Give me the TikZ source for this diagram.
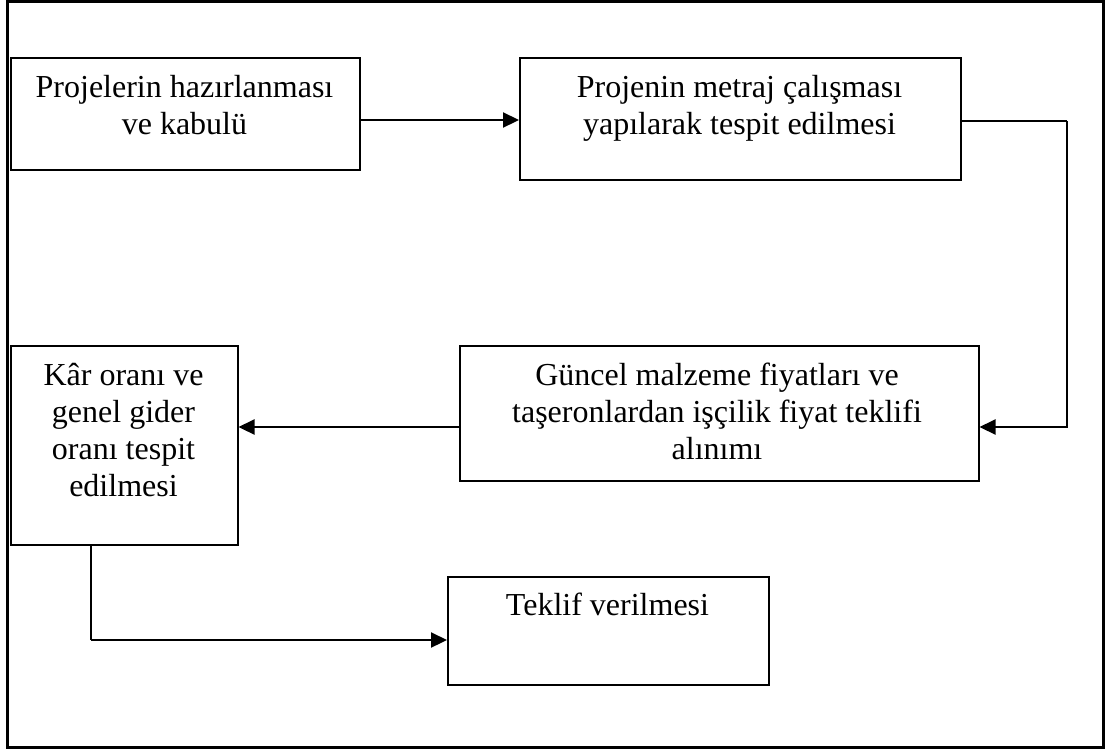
\documentclass[tikz,border=0pt]{standalone}
\usepackage{fontspec}
\setmainfont{Liberation Serif}
\usetikzlibrary{arrows.meta}
\newcommand{\stack}[1]{\begin{tabular}[t]{@{}c@{}}#1\end{tabular}}
\begin{document}
\begin{tikzpicture}[x=1pt,y=-1pt,
  stepbox/.style={draw,line width=1.5pt,inner sep=0pt,anchor=north west},
  txt/.style={inner sep=0pt,anchor=base,font=\fontsize{32}{37}\selectfont},
  link/.style={line width=2.2pt,-{Triangle[length=16pt,width=15pt]}},
  plain/.style={line width=2.2pt}]
  \useasboundingbox (0,0) rectangle (1107,753);
  \draw[line width=3pt] (7,1.5) rectangle (1103,747);

  % process boxes
  \node[stepbox,minimum width=349pt,minimum height=112pt] (b1) at (10,57) {};
  \node[stepbox,minimum width=441pt,minimum height=122pt] (b2) at (519,57) {};
  \node[stepbox,minimum width=519pt,minimum height=135pt] (b3) at (459,345) {};
  \node[stepbox,minimum width=227pt,minimum height=199pt] (b4) at (10,345) {};
  \node[stepbox,minimum width=321pt,minimum height=108pt] (b5) at (447,576) {};

  % box texts
  \node[txt] (t1) at (184.5,97) {\stack{Projelerin hazırlanması\\ve kabulü}};
  \node[txt] (t2) at (739.5,97) {\stack{Projenin metraj çalışması\\yapılarak tespit edilmesi}};
  \node[txt] (t3) at (717,385) {\stack{Güncel malzeme fiyatları ve\\taşeronlardan işçilik fiyat teklifi\\alınımı}};
  \node[txt] (t4) at (123.5,385) {\stack{Kâr oranı ve\\genel gider\\oranı tespit\\edilmesi}};
  \node[txt] (t5) at (607.5,615) {\stack{Teklif verilmesi}};

  % connectors
  \coordinate (c1) at (1067,121);
  \coordinate (c2) at (91,640);
  \draw[link] (b1.east |- 0,120) -- (b2.west |- 0,120);
  \draw[plain] (b2.east |- c1) -- (c1);
  \draw[link] (c1) |- (b3.east |- 0,427);
  \draw[link] (b3.west |- 0,427) -- (b4.east |- 0,427);
  \draw[plain] (b4.south -| c2) -- (c2);
  \draw[link] (c2) -- (b5.west |- c2);
\end{tikzpicture}
\end{document}
